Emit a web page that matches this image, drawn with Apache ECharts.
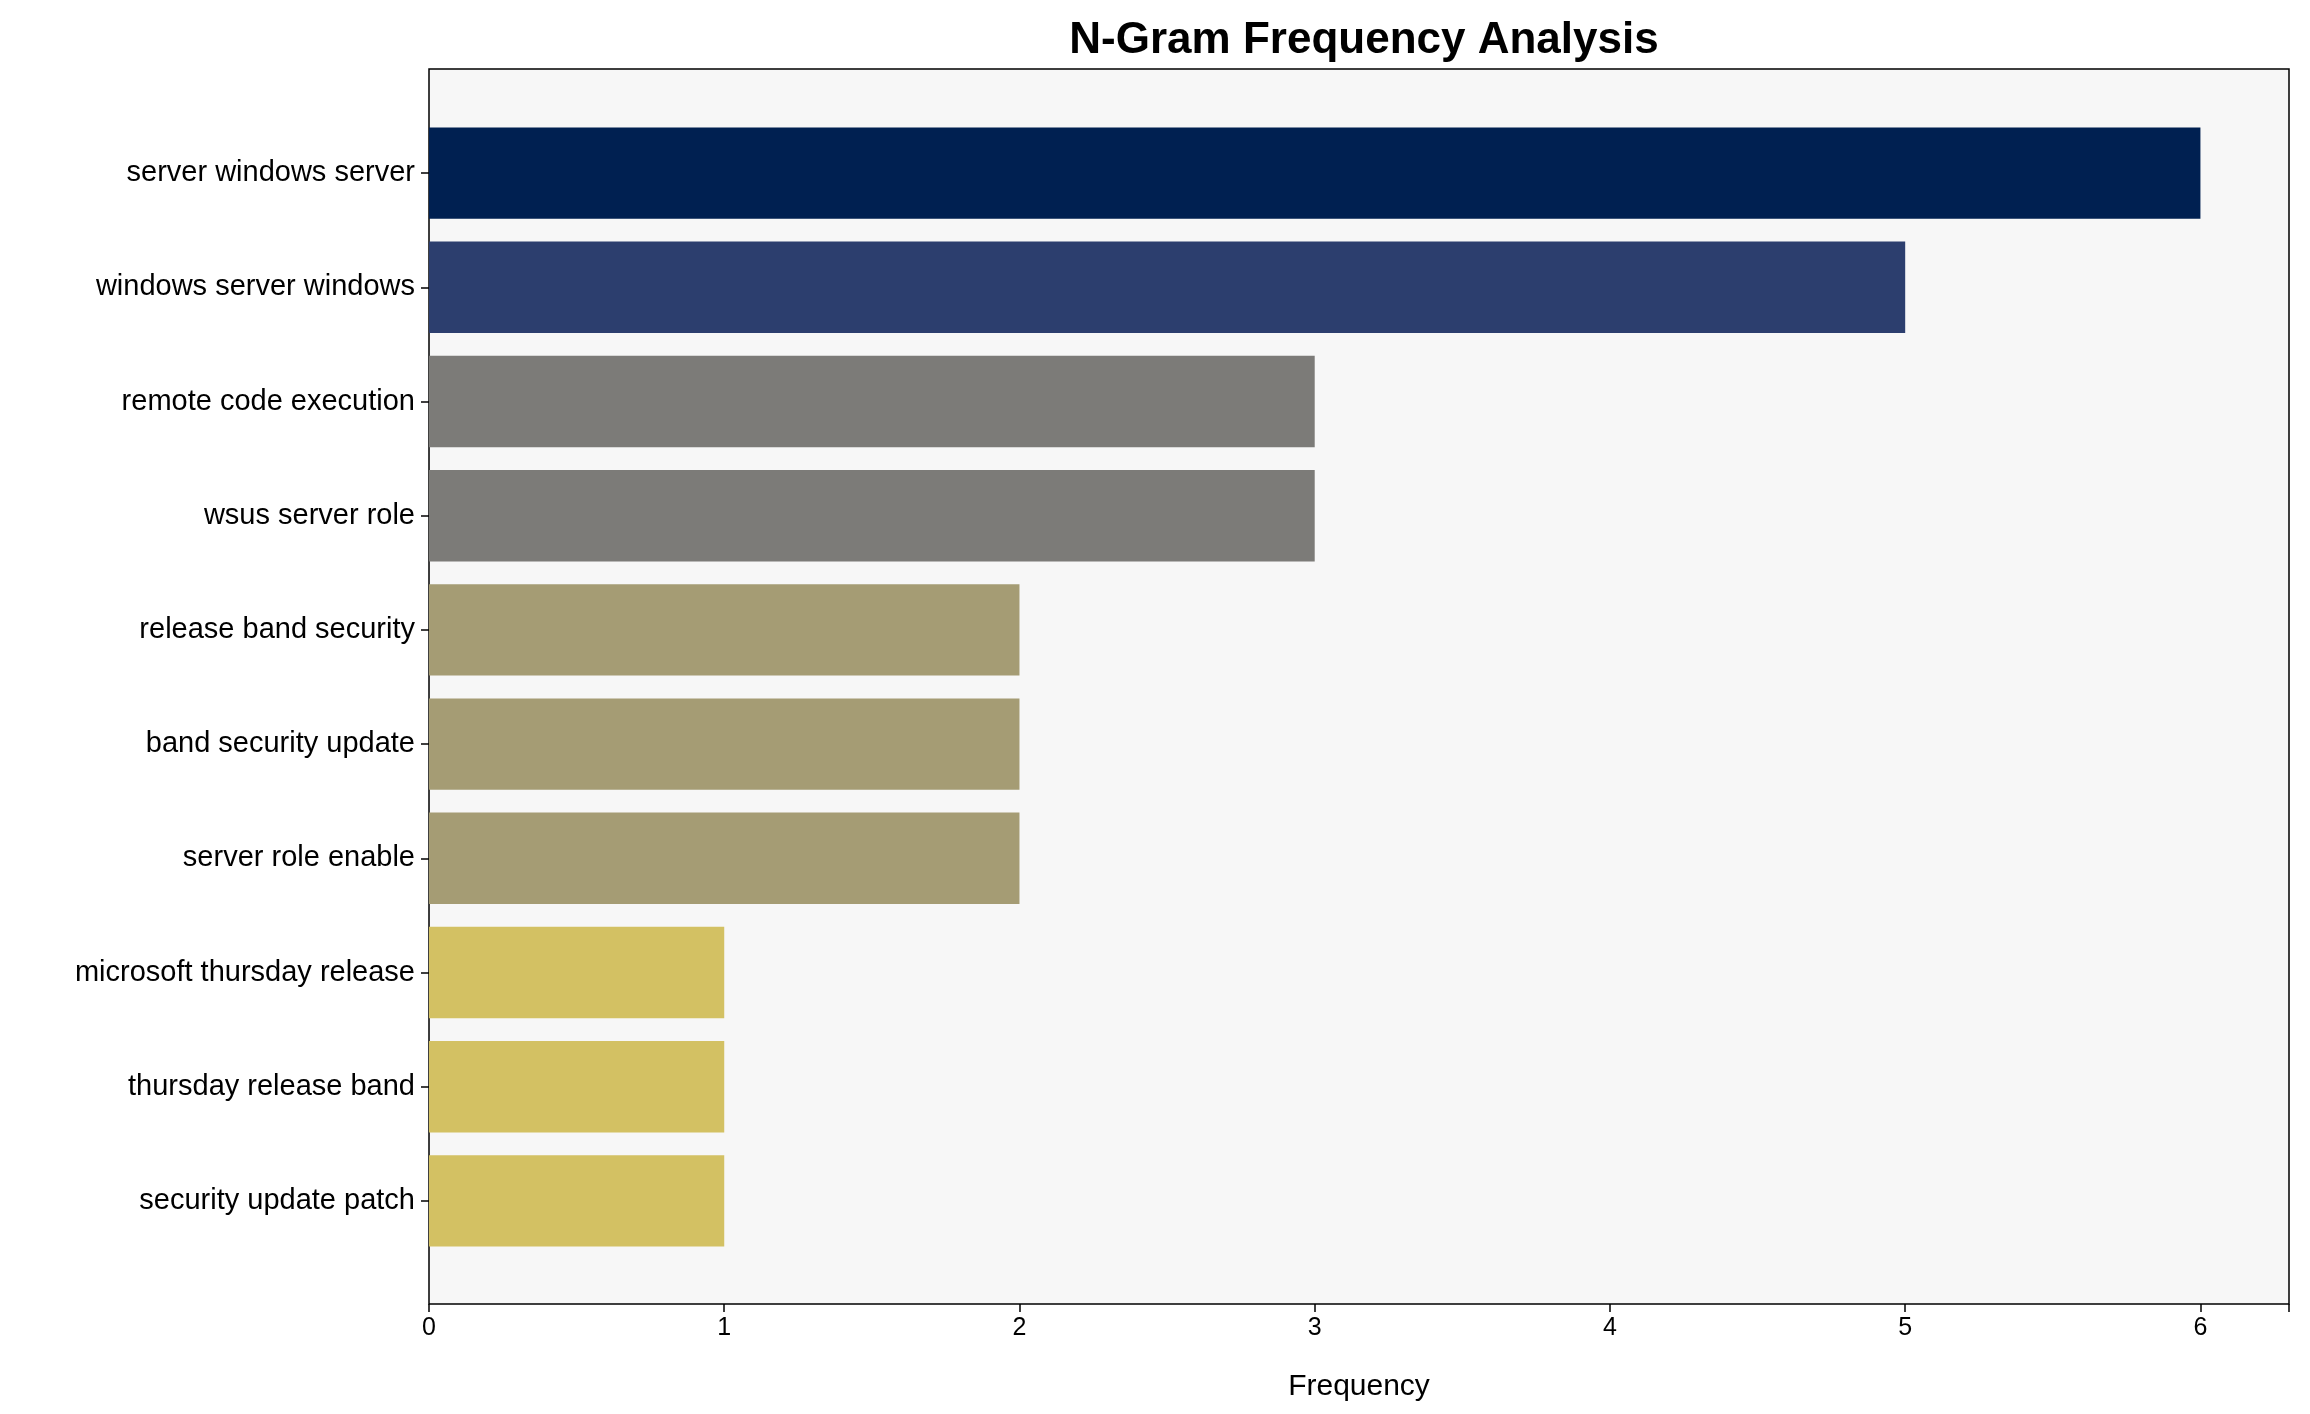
<!DOCTYPE html>
<html><head><meta charset="utf-8">
<script src="https://cdn.jsdelivr.net/npm/echarts@6/dist/echarts.min.js"></script>
<style>html,body{margin:0;padding:0;background:#fff}#c{width:2310px;height:1414px}</style>
</head><body><div id="c"></div>
<script>
const categories = ["server windows server","windows server windows","remote code execution","wsus server role","release band security","band security update","server role enable","microsoft thursday release","thursday release band","security update patch"];
const values = [6,5,3,3,2,2,2,1,1,1];
const colors = ["#002051","#2c3e6e","#7c7b78","#7c7b78","#a59c74","#a59c74","#a59c74","#d3c163","#d3c163","#d3c163"];
const xTicks = [0,1,2,3,4,5,6];
const L=429,R=2289,T=69,B=1304;
const chart = echarts.init(document.getElementById('c'));
const font = 'Liberation Sans, Arial, sans-serif';
chart.setOption({
  animation:false,
  title:{text:'N-Gram Frequency Analysis',left:(L+R)/2,top:14,textAlign:'center',textStyle:{fontFamily:font,fontSize:44,fontWeight:'bold',color:'#000'}},
  graphic:[{type:'rect',z:-10,shape:{x:L,y:T,width:R-L,height:B-T},style:{fill:'#f7f7f7',stroke:'#000',lineWidth:1.5}}],
  grid:{left:L,right:2310-R,top:116,bottom:1414-1258},
  xAxis:{type:'value',min:0,max:6.3,interval:1,offset:46,
    name:'Frequency',nameLocation:'middle',nameGap:68,nameTextStyle:{fontFamily:font,fontSize:30,color:'#000'},
    axisLine:{show:false},axisTick:{show:true,length:8,lineStyle:{color:'#000',width:1.5}},
    axisLabel:{fontFamily:font,fontSize:25,color:'#000',margin:12,formatter:v=>xTicks.includes(v)?String(v):''},
    splitLine:{show:false}},
  yAxis:{type:'category',inverse:true,data:categories,
    axisLine:{show:false},axisTick:{show:true,alignWithLabel:true,length:8,lineStyle:{color:'#000',width:1.5}},
    axisLabel:{fontFamily:font,fontSize:29,color:'#000',margin:14}},
  series:[{type:'bar',barCategoryGap:'20%',data:values.map((v,i)=>({value:v,itemStyle:{color:colors[i]}}))}]
});
</script></body></html>
